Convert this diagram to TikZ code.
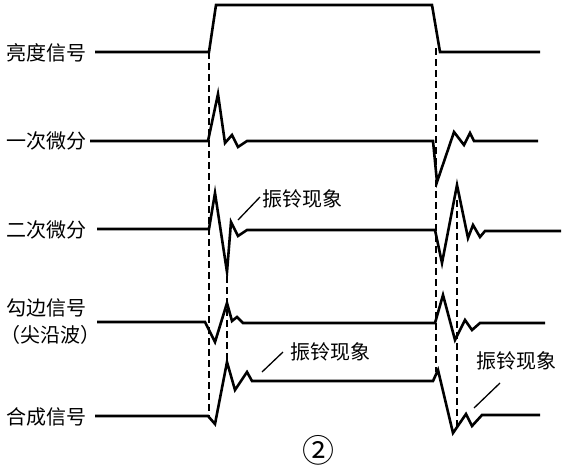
\documentclass[tikz,border=0pt]{standalone}
\usepackage{fontspec}
\newfontfamily\cjk{Noto Sans CJK SC}
\begin{document}
\begin{tikzpicture}[x=1pt,y=-1pt,
  wave/.style={line width=2.6pt, line join=miter, miter limit=20},
  guide/.style={line width=1.6pt, dash pattern=on 7pt off 4pt},
  lbl/.style={font=\cjk\fontsize{20}{22}\selectfont, inner sep=0pt, anchor=west},
  lead/.style={line width=1.3pt}]
\useasboundingbox (0,0) rectangle (567,474);
% labels
\node[lbl] (l1) at (6,53) {亮度信号};
\node[lbl] (l2) at (6,141) {一次微分};
\node[lbl] (l3) at (6,230) {二次微分};
\node[lbl] (l4) at (6,308) {勾边信号};
\node[lbl] (l4b) at (0,335) {（尖沿波）};
\node[lbl] (l5) at (6,417) {合成信号};
% waveforms
\draw[wave] (95,52) -- (209,52) -- (216,5) -- (432,5) -- (440,52) -- (540,52);
\draw[wave] (90,141) -- (208,141) -- (218,94) -- (225,143) -- (232,135) -- (238,147) -- (247,141) -- (433,141) -- (437,182) -- (454,132) -- (464,145) -- (470,133) -- (474,141) -- (538,141);
\draw[wave] (97,229) -- (209,229) -- (215,193) -- (227,272) -- (231,222) -- (238,236) -- (247,230) -- (435,230) -- (442,263) -- (457,185) -- (468,238) -- (473,225) -- (480,237) -- (485,231) -- (561,231);
\draw[wave] (97,322) -- (205,322) -- (215,342) -- (227,303) -- (232,321) -- (237,317) -- (243,323) -- (435,323) -- (443,295) -- (455,340) -- (465,320) -- (472,330) -- (480,323) -- (545,323);
\draw[wave] (95,416) -- (208,416) -- (215,424) -- (227,362) -- (235,390) -- (247,372) -- (252,381) -- (433,381) -- (438,370) -- (453,433) -- (466,414) -- (472,426) -- (482,415) -- (540,415);
% guide lines
\draw[guide] (209,52) -- (209,418);
\draw[guide] (227,276) -- (227,362);
\draw[guide] (436,48) -- (436,372);
\draw[guide] (457,200) -- (457,430);
% ringing annotations
\node[lbl] (r1) at (262,199) {振铃现象};
\node[lbl] (r2) at (290,352) {振铃现象};
\node[lbl] (r3) at (476,361) {振铃现象};
\coordinate (p1) at (238,220);
\coordinate (p2) at (262,372);
\coordinate (p3) at (474,408);
\draw[lead] (p1) -- (260,197);
\draw[lead] (p2) -- (283,352);
\draw[lead] (p3) -- (500,383);
% figure number
\node[font=\cjk\fontsize{32}{34}\selectfont, inner sep=0pt] (num) at (318,450) {②};
\end{tikzpicture}
\end{document}
